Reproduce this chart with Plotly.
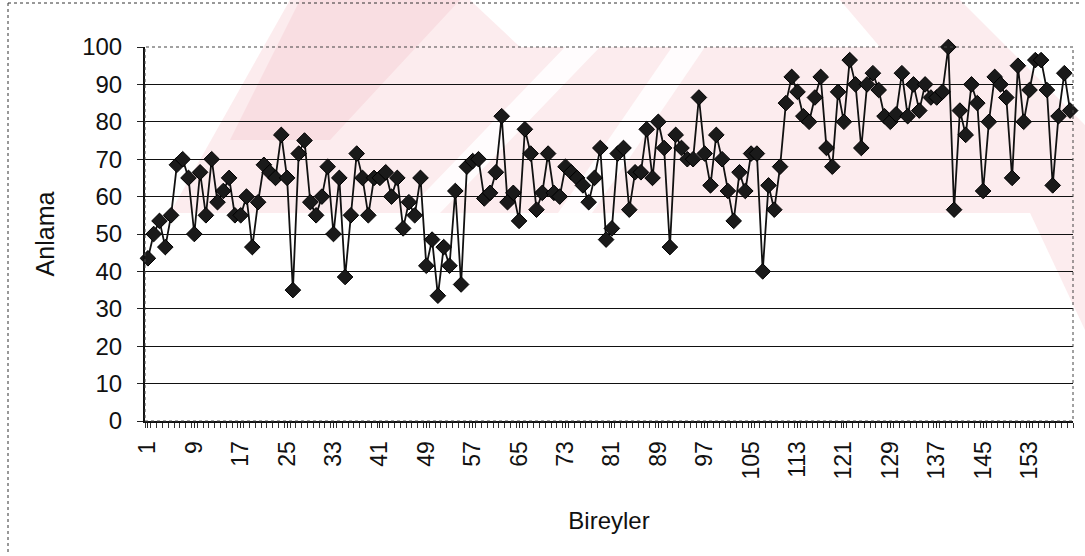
import plotly.graph_objects as go

# Bireyler (individuals) 1..160 and Anlama scores
values = [
    43.5, 50, 53.5, 46.5, 55, 68.5, 70, 65, 50, 66.5,
    55, 70, 58.5, 61.5, 65, 55, 55, 60, 46.5, 58.5,
    68.5, 66.5, 65, 76.5, 65, 35, 71.5, 75, 58.5, 55,
    60, 68, 50, 65, 38.5, 55, 71.5, 65, 55, 65,
    65, 66.5, 60, 65, 51.5, 58.5, 55, 65, 41.5, 48.5,
    33.5, 46.5, 41.5, 61.5, 36.5, 68, 69.5, 70, 59.5, 61,
    66.5, 81.5, 58.5, 61, 53.5, 78, 71.5, 56.5, 61, 71.5,
    61, 60, 68, 66.5, 65, 63, 58.5, 65, 73, 48.5,
    51.5, 71.5, 73, 56.5, 66.5, 66.5, 78, 65, 80, 73,
    46.5, 76.5, 73, 70, 70, 86.5, 71.5, 63, 76.5, 70,
    61.5, 53.5, 66.5, 61.5, 71.5, 71.5, 40, 63, 56.5, 68,
    85, 92, 88, 81.5, 80, 86.5, 92, 73, 68, 88,
    80, 96.5, 90, 73, 90, 93, 88.5, 81.5, 80, 82,
    93, 81.5, 90, 83, 90, 86.5, 86.5, 88, 100, 56.5,
    83, 76.5, 90, 85, 61.5, 80, 92, 90, 86.5, 65,
    95, 80, 88.5, 96.5, 96.5, 88.5, 63, 81.5, 93, 83,
]
individuals = list(range(1, len(values) + 1))
x_tick_vals = list(range(1, len(values) + 1, 8))
y_tick_vals = list(range(0, 101, 10))

W, H = 1085, 556
PL, PR, PT, PB = 145, 1073, 47, 421


def px(x):
    return (x - PL) / (PR - PL)


def py(y):
    return (PB - y) / (PB - PT)


def poly(pts):
    return "M " + " L ".join(f"{px(a):.4f},{py(b):.4f}" for a, b in pts) + " Z"


fig = go.Figure()
fig.add_trace(go.Scatter(
    x=individuals, y=values, mode="lines+markers",
    line=dict(color="#111111", width=1.8),
    marker=dict(symbol="diamond", size=12, color="#1a1a1a",
                line=dict(color="#000000", width=1)),
    showlegend=False, cliponaxis=False,
))

shapes = []
# faint watermark of the scanned page
wm = "rgba(238, 160, 172, 0.20)"
shapes.append(dict(type="path", xref="paper", yref="paper", layer="below",
                   path=poly([(290, 0), (470, 0), (520, 47), (880, 47), (840, 0), (960, 0),
                              (1085, 125), (1085, 213), (170, 213)]),
                   fillcolor=wm, line=dict(width=0)))
shapes.append(dict(type="path", xref="paper", yref="paper", layer="below",
                   path=poly([(300, 0), (460, 0), (330, 140), (230, 140)]),
                   fillcolor="rgba(238, 160, 172, 0.18)", line=dict(width=0)))
shapes.append(dict(type="path", xref="paper", yref="paper", layer="below",
                   path=poly([(1030, 213), (1085, 213), (1085, 330)]),
                   fillcolor=wm, line=dict(width=0)))
for s in ([(565, 47), (600, 47), (440, 213), (405, 213)],
          [(672, 47), (705, 47), (592, 213), (558, 213)]):
    shapes.append(dict(type="path", xref="paper", yref="paper", layer="below",
                       path=poly(s), fillcolor="rgba(255,255,255,0.85)", line=dict(width=0)))
# outer chart frame (left and top edges visible)
for x0, y0, x1, y1 in ((8, 3, 8, 553), (8, 3, 1080, 3)):
    shapes.append(dict(type="line", xref="paper", yref="paper", layer="below",
                       x0=px(x0), x1=px(x1), y0=py(y0), y1=py(y1),
                       line=dict(color="#333333", width=1, dash="dot")))
# plot area frame
shapes.append(dict(type="rect", xref="paper", yref="paper", layer="above",
                   x0=0, x1=1, y0=0, y1=1,
                   line=dict(color="#444444", width=1, dash="dot"),
                   fillcolor="rgba(0,0,0,0)"))

fig.update_layout(
    width=W, height=H,
    margin=dict(l=PL, r=W - PR, t=PT, b=H - PB, pad=0),
    paper_bgcolor="white", plot_bgcolor="rgba(0,0,0,0)",
    font=dict(family="Liberation Sans, Arial, sans-serif", color="#111111", size=24),
    shapes=shapes,
    xaxis=dict(
        range=[0.5, len(values) + 0.5],
        tickmode="array", tickvals=x_tick_vals, ticktext=[str(v) for v in x_tick_vals],
        tickangle=-90, ticks="outside", ticklen=5, tickcolor="#222222",
        tickfont=dict(size=23), ticklabelstandoff=4,
        minor=dict(ticks="outside", ticklen=5, tickcolor="#333333",
                   tickmode="array", tickvals=[i + 0.5 for i in range(0, len(values) + 1)]),
        showgrid=False, zeroline=False, showline=True, linecolor="#111111", linewidth=2,
        title=dict(text="Bireyler", font=dict(size=24), standoff=34),
    ),
    yaxis=dict(
        range=[0, 100], tickvals=y_tick_vals, ticks="outside", ticklen=6,
        tickcolor="#222222", tickfont=dict(size=24), ticklabelstandoff=10,
        showgrid=True, gridcolor="#111111", gridwidth=1.3,
        zeroline=False, showline=True, linecolor="#111111", linewidth=2,
        title=dict(text="Anlama", font=dict(size=25), standoff=20),
    ),
)

fig.write_html("out.html")
